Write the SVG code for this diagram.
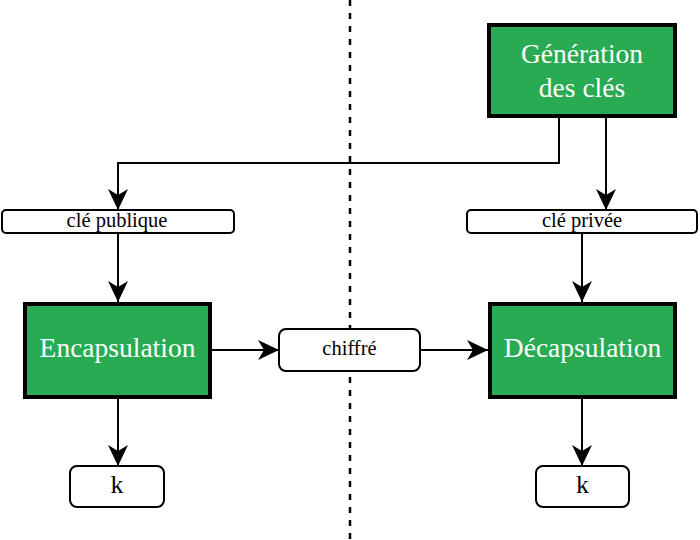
<svg xmlns="http://www.w3.org/2000/svg" width="700" height="540" viewBox="0 0 700 540">
<style>
.proc{fill:#28ab52;stroke:#000;stroke-width:4}
.data{fill:#fff;stroke:#000;stroke-width:2}
.big{font-family:"Liberation Serif",serif;font-size:27.5px;fill:#fff;text-anchor:middle}
.small{font-family:"Liberation Serif",serif;font-size:20.5px;fill:#000;text-anchor:middle}
.conn{fill:none;stroke:#000;stroke-width:2;marker-end:url(#arr)}
</style>
<defs>
<marker id="arr" viewBox="0 0 21 20" refX="21" refY="10" markerWidth="21" markerHeight="20" markerUnits="userSpaceOnUse" orient="auto">
<path d="M0,0 L21,10 L0,20 L6,10 z" fill="#000"/>
</marker>
</defs>
<rect width="700" height="540" fill="#fff"/>
<line x1="350" y1="0" x2="350" y2="540" stroke="#000" stroke-width="2.5" stroke-dasharray="6 7"/>
<g id="connectors">
<path class="conn" d="M559,118 V163 H118 V210"/>
<path class="conn" d="M606,118 V210"/>
<path class="conn" d="M118,234 V302"/>
<path class="conn" d="M582,234 V302"/>
<path class="conn" d="M212,350 H279"/>
<path class="conn" d="M420,350 H488"/>
<path class="conn" d="M118,399 V466"/>
<path class="conn" d="M582,399 V466"/>
</g>
<g id="generation">
<rect class="proc" x="489" y="25" width="186" height="91"/>
<text class="big" x="582" y="63">Génération</text>
<text class="big" x="582" y="97">des clés</text>
</g>
<g id="cle-publique">
<rect class="data" x="2" y="210" width="232" height="23" rx="4"/>
<text class="small" x="117" y="227">clé publique</text>
</g>
<g id="cle-privee">
<rect class="data" x="467" y="210" width="230" height="23" rx="4"/>
<text class="small" x="582" y="227">clé privée</text>
</g>
<g id="encapsulation">
<rect class="proc" x="25" y="304" width="185" height="93"/>
<text class="big" x="117.5" y="357">Encapsulation</text>
</g>
<g id="decapsulation">
<rect class="proc" x="490" y="304" width="185" height="93"/>
<text class="big" x="582.5" y="357">Décapsulation</text>
</g>
<g id="chiffre">
<rect class="data" x="279" y="329" width="141" height="42" rx="7"/>
<text class="small" x="349.5" y="355">chiffré</text>
</g>
<g id="k-gauche">
<rect class="data" x="70" y="466" width="94" height="41" rx="7"/>
<text class="small" x="117" y="493" style="font-size:26px">k</text>
</g>
<g id="k-droite">
<rect class="data" x="536" y="466" width="93" height="41" rx="7"/>
<text class="small" x="582.5" y="493" style="font-size:26px">k</text>
</g>
</svg>
